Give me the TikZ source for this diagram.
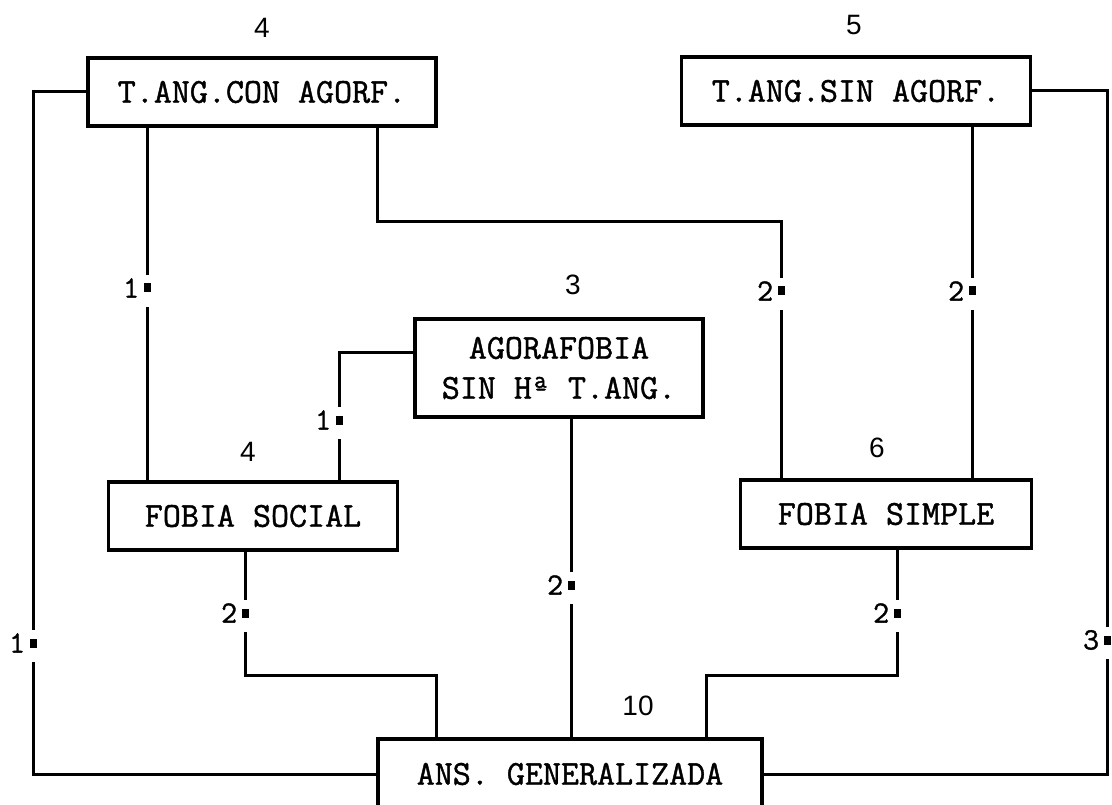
\documentclass[tikz,border=0pt]{standalone}
\usepackage{fontspec}
\setmainfont{Liberation Sans}
\newfontfamily\monof[FakeBold=1.2]{Latin Modern Mono}
\newfontfamily\sansf{Liberation Sans}
\newcommand\elabel[4]{%
  \node[gapbox] (#1g) at (#2,#3+3) {};
  \node[sq] (#1s) at (#2,#3) {};
  \node[elab] (#1t) at ([xshift=-4pt]#1s.west) {#4};}
\begin{document}
\begin{tikzpicture}[x=1pt,y=-1pt,
  box/.style={draw, line width=3.2pt, font=\monof\fontsize{35}{40}\selectfont, inner sep=0pt, minimum height=68pt, align=center},
  conn/.style={line width=3pt},
  num/.style={font=\sansf\fontsize{28}{30}\selectfont, inner sep=0pt},
  gapbox/.style={fill=white, inner sep=0pt, minimum width=12pt, minimum height=32pt},
  sq/.style={fill=black, inner sep=0pt, minimum width=7pt, minimum height=9pt},
  elab/.style={font=\monof\fontsize{31}{32}\selectfont, inner sep=0pt, anchor=east}]
\useasboundingbox (0,0) rectangle (1112,805);
\clip (0,0) rectangle (1112,805);
\fill[white] (0,0) rectangle (1112,805);

% boxes
\node[box, minimum width=348pt] (A) at (262,92) {T.ANG.CON AGORF.};
\node[box, minimum width=349pt] (B) at (856,91) {T.ANG.SIN AGORF.};
\node[box, minimum width=288pt, minimum height=98pt] (C) at (559,368) {AGORAFOBIA\\SIN Hª T.ANG.};
\node[box, minimum width=289pt] (D) at (253,516) {FOBIA SOCIAL};
\node[box, minimum width=291pt] (E) at (886,514) {FOBIA SIMPLE};
\node[box, minimum width=384pt, minimum height=70pt] (F) at (570,774) {ANS. GENERALIZADA};

% numbers
\node[num] (nA) at (262,28) {4};
\node[num] (nB) at (854,25) {5};
\node[num] (nC) at (573,285) {3};
\node[num] (nD) at (248,452) {4};
\node[num] (nE) at (877,448) {6};
\node[num] (nF) at (638,706) {10};

% routing coordinates
\coordinate (xL) at (33,0);
\coordinate (xR) at (1107,0);
\coordinate (x1) at (147,0);
\coordinate (j1) at (377,222);
\coordinate (j2) at (781,222);
\coordinate (x4) at (972,0);
\coordinate (c5) at (339,352);
\coordinate (x6) at (571,0);
\coordinate (j3) at (245,675);
\coordinate (j4) at (436,675);
\coordinate (j5) at (897,675);
\coordinate (j6) at (706,675);

% connectors
\draw[conn] (A.west) -- (A.west -| xL) -- (F.west -| xL) -- (F.west);
\draw[conn] (B.east) -- (B.east -| xR) -- (F.east -| xR) -- (F.east);
\draw[conn] (A.south -| x1) -- (D.north -| x1);
\draw[conn] (A.south -| j1) -- (j1) -- (j2) -- (E.north -| j2);
\draw[conn] (B.south -| x4) -- (E.north -| x4);
\draw[conn] (C.west |- c5) -- (c5) -- (D.north -| c5);
\draw[conn] (C.south -| x6) -- (F.north -| x6);
\draw[conn] (D.south -| j3) -- (j3) -- (j4) -- (F.north -| j4);
\draw[conn] (E.south -| j5) -- (j5) -- (j6) -- (F.north -| j6);

% edge labels
\elabel{la}{147}{288}{1}
\elabel{lb}{781}{291}{2}
\elabel{lc}{972}{291}{2}
\elabel{ld}{339}{420}{1}
\elabel{le}{245}{613}{2}
\elabel{lf}{571}{585}{2}
\elabel{lg}{897}{613}{2}
\elabel{lh}{33}{643}{1}
\elabel{li}{1107}{640}{3}
\end{tikzpicture}
\end{document}
